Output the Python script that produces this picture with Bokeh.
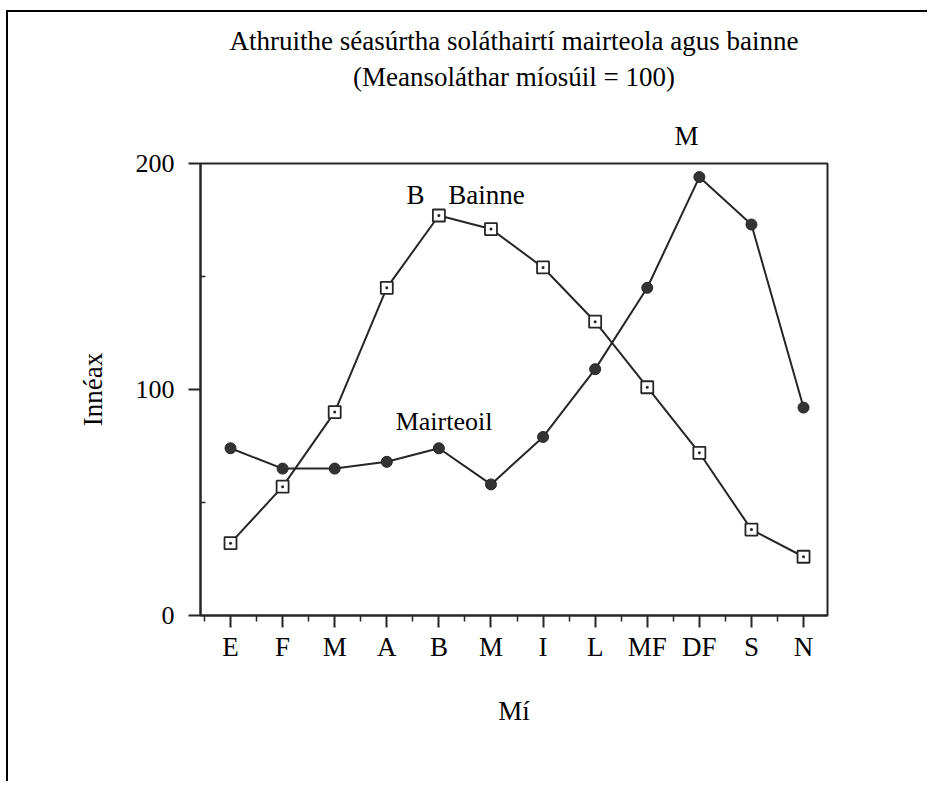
from bokeh.plotting import figure
from bokeh.models import FixedTicker, Label, Range1d, Title
from bokeh.embed import file_html
from bokeh.resources import INLINE

months = ["E", "F", "M", "A", "B", "M", "I", "L", "MF", "DF", "S", "N"]
month_pos = list(range(1, 13))
bainne = [32, 57, 90, 145, 177, 171, 154, 130, 101, 72, 38, 26]
mairteoil = [74, 65, 65, 68, 74, 58, 79, 109, 145, 194, 173, 92]
y_ticks = [0, 100, 200]
y_minor = [50, 150]

FONT = "Liberation Serif"
INK = "#262626"

p = figure(width=921, height=771, output_backend="svg", toolbar_location=None,
           x_range=Range1d(0.424, 12.46), y_range=Range1d(0, 200),
           min_border_left=192, min_border_right=102, min_border_top=151,
           min_border_bottom=168)
p.styles = {"border-top": "2px solid black", "border-left": "2px solid black",
            "margin-top": "10px", "margin-left": "6px"}
p.background_fill_color = "white"
p.border_fill_color = "white"
p.xgrid.visible = False
p.ygrid.visible = False
p.outline_line_color = INK
p.outline_line_width = 2

# x axis
p.xaxis.ticker = FixedTicker(ticks=month_pos, minor_ticks=[m - 0.5 for m in month_pos])
p.xaxis.major_label_overrides = {m: lab for m, lab in zip(month_pos, months)}
p.xaxis.major_tick_out = 12
p.xaxis.major_tick_in = 0
p.xaxis.minor_tick_out = 6
p.xaxis.minor_tick_in = 0
p.xaxis.axis_line_width = 2
p.xaxis.major_tick_line_width = 2
p.xaxis.minor_tick_line_width = 1.5
p.xaxis.axis_line_color = INK
p.xaxis.major_tick_line_color = INK
p.xaxis.minor_tick_line_color = INK
p.xaxis.major_label_text_font = FONT
p.xaxis.major_label_text_font_size = "27px"
p.xaxis.major_label_text_color = "black"
p.xaxis.major_label_standoff = 4
p.xaxis.axis_label = "Mí"
p.xaxis.axis_label_text_font = FONT
p.xaxis.axis_label_text_font_size = "27px"
p.xaxis.axis_label_text_font_style = "normal"
p.xaxis.axis_label_text_color = "black"
p.xaxis.axis_label_standoff = 31

# y axis
p.yaxis.ticker = FixedTicker(ticks=y_ticks, minor_ticks=y_minor)
p.yaxis.major_tick_out = 12
p.yaxis.major_tick_in = 0
p.yaxis.minor_tick_out = 0
p.yaxis.minor_tick_in = 5
p.yaxis.axis_line_width = 2
p.yaxis.major_tick_line_width = 2
p.yaxis.minor_tick_line_width = 1.5
p.yaxis.axis_line_color = INK
p.yaxis.major_tick_line_color = INK
p.yaxis.minor_tick_line_color = INK
p.yaxis.major_label_text_font = FONT
p.yaxis.major_label_text_font_size = "26px"
p.yaxis.major_label_text_color = "black"
p.yaxis.major_label_standoff = 14
p.yaxis.axis_label = "Innéax"
p.yaxis.axis_label_text_font = FONT
p.yaxis.axis_label_text_font_size = "27px"
p.yaxis.axis_label_text_font_style = "normal"
p.yaxis.axis_label_text_color = "black"
p.yaxis.axis_label_standoff = 25

# series
p.line(month_pos, bainne, line_color=INK, line_width=2)
p.scatter(month_pos, bainne, marker="square_dot", size=12, line_color=INK,
          line_width=1.8, fill_color="white")
p.line(month_pos, mairteoil, line_color=INK, line_width=2)
p.scatter(month_pos, mairteoil, marker="circle", size=11, line_color=INK,
          fill_color="#333333")

# titles above the frame (first added sits closest to the frame)
def title(text, align="center", offset=0, standoff=10, size="27px"):
    p.add_layout(Title(text=text, align=align, offset=offset, standoff=standoff,
                       text_font=FONT, text_font_size=size,
                       text_font_style="normal", text_color="black"), "above")

title("M", align="left", offset=474, standoff=25)
title("(Meansoláthar míosúil = 100)", standoff=29)
title("Athruithe séasúrtha soláthairtí mairteola agus bainne", standoff=-21)

# in-plot texts
def lab(x, y, text, align="left", size="27px"):
    p.add_layout(Label(x=x, y=y, text=text, text_font=FONT, text_font_size=size,
                       text_align=align, text_baseline="middle", text_color="black"))

lab(4.38, 186, "B")
lab(5.18, 186, "Bainne")
lab(4.17, 86, "Mairteoil", size="26px")

open("out.html", "w").write(file_html(p, INLINE))
